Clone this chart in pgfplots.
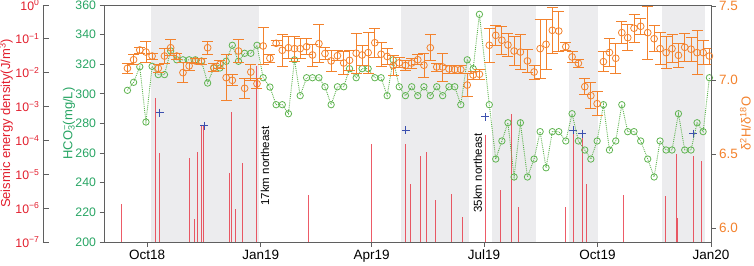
\documentclass[border=0pt]{standalone}
\usepackage{fontspec}
\setmainfont{Liberation Sans}
\usepackage{pgfplots}
\pgfplotsset{compat=1.18}
\usepackage{pgfplotstable}
\definecolor{framegray}{RGB}{95,95,95}
\definecolor{shadegray}{RGB}{236,236,238}
\definecolor{seisred}{RGB}{226,30,45}
\definecolor{stemred}{RGB}{232,50,65}
\definecolor{hcogreen}{RGB}{40,165,100}
\definecolor{circgreen}{RGB}{95,180,80}
\definecolor{oxorange}{RGB}{243,130,45}
\definecolor{plusblue}{RGB}{60,80,175}

\pgfplotstableread{
d h r e
-16 302.4 7.079 0.034
-11 307.8 7.137 0.034
-6 318.3 7.203 0.02
-1 281.0 7.189 0.07
4 318.6 7.162 0.02
9 313.0 7.079 0.027
14 313.0 7.162 0.05
19 329.0 7.218 0.054
24 323.0 7.162 0.02
29 323.0 7.050 0.068
34 323.0 7.095 0.027
39 323.0 7.129 0.02
44 322.2 7.124 0.02
49 307.3 7.218 0.045
54 317.5 7.083 0.027
59 317.5 7.106 0.027
64 322.0 7.016 0.155
69 332.8 6.998 0.037
74 322.0 7.196 0.079
79 327.4 6.944 0.065
84 327.4 7.054 0.054
89 332.8 6.975 0.034
94 310.9 7.230 0.126
99.5 304.6 7.147 0.025
104.5 292.7 7.248 0.017
109.5 292.7 7.201 0.107
114.5 286.6 7.218 0.075
119.4 323.0 7.212 0.084
124 298.8 7.212 0.068
129.2 310.9 7.225 0.054
134 310.9 7.169 0.074
139.2 310.9 7.246 0.13
144.1 304.8 7.179 0.04
149.1 292.7 7.129 0.074
154.2 304.8 7.164 0.034
159.3 304.8 7.115 0.079
164 317.0 7.133 0.068
169.4 310.9 7.181 0.135
174.2 317.0 7.169 0.068
179.1 317.0 7.185 0.14
184.5 310.9 7.252 0.10
189.6 310.9 7.174 0.08
194.5 298.8 7.159 0.054
199.4 323.0 7.097 0.068
204.3 304.8 7.116 0.034
209.3 298.8 7.098 0.034
214.4 304.8 7.115 0.034
219.3 298.8 7.137 0.034
224.3 304.8 7.100 0.08
229.5 298.8 7.218 0.088
234.7 304.8 7.088 0.027
239.5 298.8 7.088 0.095
244.6 304.8 7.075 0.027
249.3 304.8 7.071 0.027
254.2 292.7 7.071 0.027
259.4 323.0 6.966 0.08
264.2 317.0 7.034 0.027
269.3 353.7 7.039 0.034
277.3 292.7 7.235 0.115
282.5 256.0 7.302 0.068
287.5 268.2 7.269 0.095
292.4 280.5 7.237 0.08
297.4 243.9 7.196 0.10
302.5 280.5 7.189 0.12
308.2 243.9 7.129 0.08
313.6 256.0 7.054 0.047
318.5 274.5 7.212 0.20
323.3 250.1 7.241 0.17
328.4 274.5 7.336 0.155
333.6 274.5 7.331 0.135
339.3 268.2 7.225 0.027
344.4 286.6 7.156 0.04
349.5 268.2 7.113 0.027
354.7 262.1 6.955 0.054
359.6 256.0 6.894 0.088
364.7 268.2 6.840 0.08
369.8 292.7 7.124 0.068
374.7 262.1 7.186 0.095
379.8 268.2 7.147 0.10
384.7 292.7 7.320 0.074
389.5 274.5 7.286 0.088
394.6 274.5 7.350 0.095
400 268.2 7.363 0.054
405.7 256.0 7.320 0.18
410.9 243.9 7.279 0.088
415.7 268.2 7.212 0.108
420.6 262.1 7.185 0.108
425.4 262.1 7.212 0.095
430.6 286.6 7.167 0.08
435.7 262.1 7.221 0.095
440.8 262.1 7.208 0.08
445.7 280.5 7.185 0.15
450.6 274.5 7.185 0.08
455.7 310.9 7.162 0.054
}\maindata

\pgfplotstableread{
d s
-21.1 1.35e-6
6.7 1.75e-3
10 4.2e-5
34.6 3.1e-5
38.3 4.7e-7
40.5 4.7e-5
43.8 2.9e-4
46 2.9e-4
67 1.1e-5
68.3 7.1e-4
71.6 9.3e-7
77.2 2.1e-5
88.7 1.6e-2
130.7 2.4e-6
182.1 7.9e-5
209.7 7.9e-5
213.8 5.2e-6
221.9 3.5e-5
226.7 4.7e-5
233.5 1.8e-6
246.6 2.6e-6
255.8 5.5e-7
274.1 1.45e-4
286.1 3.4e-6
295.4 5.9e-4
300.9 1.07e-6
338.7 1.07e-6
345.2 2.1e-4
352.8 1.5e-4
356 5.2e-6
386.1 2.5e-6
420.4 2.3e-6
429.3 4.1e-5
429.6 5.2e-7
442.6 3.5e-5
448.9 2.5e-5
}\seisdata

\pgfplotstableread{
d s
10 6.6e-4
46.4 2.7e-4
209.6 2.0e-4
274.1 5.0e-4
345.2 2.0e-4
352.8 1.6e-4
442.5 1.6e-4
}\plusdata

\pgfplotsset{
  myax/.style={at={(104pt,23pt)}, anchor=south west, scale only axis,
    width=607pt, height=237pt, xmin=-35, xmax=457},
}

\begin{document}
\begin{tikzpicture}
% background axis: shading, frame, x ticks, HCO3 axis
\begin{axis}[myax, ymin=200, ymax=360, axis on top,
  axis line style={draw=framegray, line width=0.8pt},
  tick style={draw=framegray, line width=0.8pt},
  major tick length=4.5pt, tick align=outside,
  xtick pos=left, ytick pos=left,
  xtick={0,92,182,273,365,457},
  xticklabels={Oct18,Jan19,Apr19,Jul19,Oct19,Jan20},
  xticklabel style={font=\fontsize{13.5}{15}\selectfont, text=black},
  ytick={200,220,...,360},
  yticklabel style={font=\fontsize{12.3}{14}\selectfont, text=hcogreen,
    /pgf/number format/assume math mode=true},
  ylabel={HCO\rlap{\textsuperscript{−}}\textsubscript{3}(mg/L)},
  ylabel style={at={(axis description cs:-0.0577,0.5)}, anchor=center,
    text=hcogreen, font=\fontsize{13}{15}\selectfont},
]
\addplot[fill=shadegray, draw=none] coordinates {(3.2,200) (3.2,360) (91,360) (91,200)} -- cycle;
\addplot[fill=shadegray, draw=none] coordinates {(206,200) (206,360) (261,360) (261,200)} -- cycle;
\addplot[fill=shadegray, draw=none] coordinates {(279.5,200) (279.5,360) (315.5,360) (315.5,200)} -- cycle;
\addplot[fill=shadegray, draw=none] coordinates {(342,200) (342,360) (365,360) (365,200)} -- cycle;
\addplot[fill=shadegray, draw=none] coordinates {(417.5,200) (417.5,360) (452,360) (452,200)} -- cycle;
\end{axis}

% seismic stems and blue crosses
\begin{axis}[myax, ymode=log, ymin=1e-7, ymax=1, hide axis, log origin y=infty]
\addplot[ycomb, draw=stemred, line width=1pt, opacity=0.8, mark=none]
  table[x=d, y=s] {\seisdata};
\addplot[only marks, mark=+, mark size=4pt, color=plusblue,
  mark options={draw=plusblue, line width=0.9pt}]
  table[x=d, y=s] {\plusdata};
\end{axis}

% HCO3 data
\begin{axis}[myax, ymin=200, ymax=360, hide axis]
\addplot[circgreen, densely dotted, line width=0.9pt, mark=o, mark size=3.2pt,
  mark options={solid, line width=0.8pt}] table[x=d, y=h] {\maindata};
\node[rotate=90, font=\fontsize{11.5}{13}\selectfont, text=black]
  at (axis cs:95.6,251.3) {17km northeast};
\node[rotate=90, font=\fontsize{11.5}{13}\selectfont, text=black]
  at (axis cs:268,246.6) {35km northeast};
\end{axis}

% isotope ratio axis and data
\begin{axis}[myax, ymin=5.905, ymax=7.507,
  axis y line*=right, axis x line=none,
  axis line style={draw=framegray, line width=0.8pt},
  tick style={draw=framegray, line width=0.8pt},
  major tick length=4.5pt, tick align=outside,
  ytick={6,6.5,7,7.5},
  yticklabel style={font=\fontsize{13.5}{15}\selectfont, text=oxorange,
    /pgf/number format/fixed, /pgf/number format/fixed zerofill,
    /pgf/number format/precision=1, /pgf/number format/assume math mode=true},
  ylabel={δ\textsuperscript{2}H/δ\textsuperscript{18}O},
  ylabel style={at={(axis description cs:1.0567,0.5)}, anchor=center,
    text=oxorange, font=\fontsize{13}{15}\selectfont},
]
\addplot[only marks, mark=o, mark size=3.4pt, color=oxorange, line width=0.8pt,
  error bars/.cd, y dir=both, y explicit,
  error bar style={line width=0.8pt, color=oxorange},
  error mark options={rotate=90, color=oxorange, mark size=5.5pt, line width=0.8pt}]
  table[x=d, y=r, y error=e] {\maindata};
\end{axis}

% seismic energy axis (offset to the left)
\begin{axis}[at={(43pt,23pt)}, anchor=south west, scale only axis,
  width=1pt, height=237pt, xmin=0, xmax=1,
  ymode=log, ymin=1e-7, ymax=1, yminorticks=false,
  axis y line*=left, axis x line=none,
  axis line style={draw=framegray, line width=0.8pt},
  tick style={draw=framegray, line width=0.8pt},
  major tick length=6pt, tick align=inside,
  ytick={1e-7,1e-6,1e-5,1e-4,1e-3,1e-2,1e-1,1},
  yticklabels={10\textsuperscript{−7},10\textsuperscript{−6},10\textsuperscript{−5},10\textsuperscript{−4},10\textsuperscript{−3},10\textsuperscript{−2},10\textsuperscript{−1},10\textsuperscript{0}},
  yticklabel style={font=\fontsize{12.3}{14}\selectfont, text=seisred},
  ylabel={Seismic energy density(J/m\textsuperscript{3})},
  ylabel style={at={(axis description cs:-37,0.5)}, anchor=center,
    text=seisred, font=\fontsize{13}{15}\selectfont},
]
\end{axis}

\pgfresetboundingbox
\path[use as bounding box] (0,0) rectangle (754pt,265pt);
\end{tikzpicture}
\end{document}
